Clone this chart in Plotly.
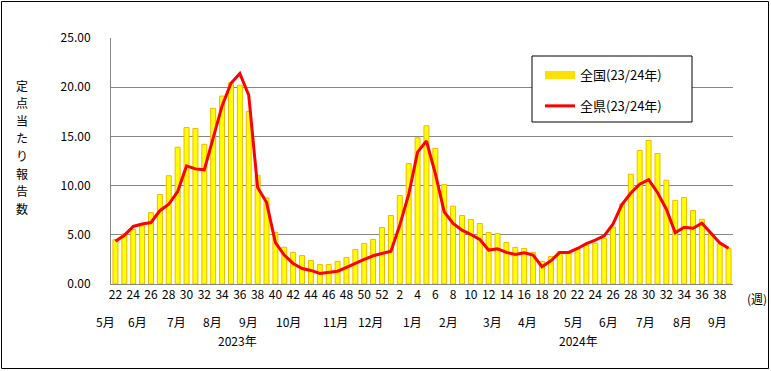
import plotly.graph_objects as go

weeks_2023 = list(range(22, 53))
weeks_2024 = list(range(1, 40))

national = [
    4.5, 5.1, 5.55, 5.9, 7.25, 9.1, 11.0, 13.9, 15.9, 15.8, 14.2, 17.85, 19.1, 20.45, 20.2, 17.55,
    11.05, 8.75, 5.24, 3.74, 3.21, 2.89, 2.4, 1.97, 1.97, 2.3, 2.7, 3.5, 4.12, 4.53, 5.74,
    6.96, 9.0, 12.24, 14.86, 16.08, 13.78, 10.1, 7.91, 6.96, 6.55, 6.15, 5.24, 5.14, 4.22, 3.72,
    3.61, 3.21, 2.3, 2.8, 3.28, 3.18, 3.55, 3.98, 4.15, 4.65, 5.78, 8.14, 11.15, 13.57, 14.58,
    13.26, 10.55, 8.5, 8.8, 7.48, 6.58, 5.16, 4.06, 3.63,
]

prefecture = [
    4.35, 4.95, 5.85, 6.1, 6.25, 7.45, 8.1, 9.4, 12.0, 11.7, 11.6, 14.8, 18.1, 20.4, 21.4, 19.2,
    9.8, 8.3, 4.2, 2.94, 2.09, 1.57, 1.38, 1.08, 1.16, 1.3, 1.69, 2.12, 2.5, 2.87, 3.11,
    3.34, 5.98, 9.1, 13.4, 14.53, 11.22, 7.33, 6.15, 5.47, 5.03, 4.53, 3.45, 3.58, 3.21, 3.01,
    3.18, 2.94, 1.76, 2.36, 3.21, 3.21, 3.61, 4.1, 4.45, 4.9, 6.1, 8.07, 9.25, 10.15, 10.6,
    9.3, 7.6, 5.2, 5.77, 5.67, 6.18, 5.17, 4.18, 3.63,
]

week_numbers = weeks_2023 + weeks_2024
x_idx = list(range(len(week_numbers)))
tick_vals = [i for i, w in zip(x_idx, week_numbers) if w % 2 == 0]
tick_text = [str(w) for w in week_numbers if w % 2 == 0]

month_labels = ["5月", "6月", "7月", "8月", "9月", "10月", "11月", "12月", "1月", "2月",
                "3月", "4月", "5月", "6月", "7月", "8月", "9月"]
month_pos = [-1.1, 2.45, 6.85, 10.9, 14.95, 19.45, 24.75, 28.7, 33.4, 37.5,
             42.4, 46.35, 51.5, 55.5, 59.6, 63.8, 67.8]
year_labels = ["2023年", "2024年"]
year_pos = [13.7, 52.1]

y_ticks = [0, 5, 10, 15, 20, 25]
y_title = "定点当たり報告数"

FONT = "Noto Sans CJK JP"

fig = go.Figure()
fig.add_trace(go.Bar(
    x=x_idx, y=national, name="全国(23/24年)", showlegend=False,
    marker=dict(color="#FFFF00", line=dict(color="#F2B800", width=1)),
))
fig.add_trace(go.Scatter(
    x=[None], y=[None], mode="lines", name="全国(23/24年)",
    line=dict(color="#FFE000", width=8), legendgroup="a",
))
fig.add_trace(go.Scatter(
    x=x_idx, y=prefecture, mode="lines", name="全県(23/24年)",
    line=dict(color="#FF0000", width=3), legendgroup="b",
))

L, R, T, B = 111, 733, 38, 284
PW, PH = R - L, B - T
NCAT = len(x_idx)


def px(x):
    return (x - L) / PW


def py(y):
    return (B - y) / PH


def cat_to_paper(c):
    return (c + 0.5) / NCAT


annotations = []
for lab, pos in zip(month_labels, month_pos):
    annotations.append(dict(x=cat_to_paper(pos), xref="paper", xanchor="center",
                            y=0, yref="paper", yanchor="middle", yshift=-37,
                            text=lab, showarrow=False,
                            font=dict(size=12, family=FONT, color="black")))
for lab, pos in zip(year_labels, year_pos):
    annotations.append(dict(x=cat_to_paper(pos), xref="paper", xanchor="center",
                            y=0, yref="paper", yanchor="middle", yshift=-56,
                            text=lab, showarrow=False,
                            font=dict(size=12, family=FONT, color="black")))
annotations.append(dict(x=px(757), xref="paper", xanchor="center", y=0, yref="paper",
                        yanchor="middle", yshift=-14, text="(週)", showarrow=False,
                        font=dict(size=12, family=FONT, color="black")))
for i, ch in enumerate(y_title):
    annotations.append(dict(x=px(22), xref="paper", xanchor="center",
                            y=py(85 + i * 17.6), yref="paper", yanchor="middle",
                            text=ch, showarrow=False, borderpad=0,
                            font=dict(size=12, family=FONT, color="black")))

shapes = [
    dict(type="rect", xref="paper", yref="paper",
         x0=px(1.5), x1=px(768.5), y0=py(368.5), y1=py(1.5),
         line=dict(color="black", width=1)),
    dict(type="rect", xref="paper", yref="paper",
         x0=px(532), x1=px(692), y0=py(122), y1=py(56),
         line=dict(color="black", width=1), fillcolor="white", layer="above"),
]

fig.update_layout(
    width=771, height=371,
    margin=dict(l=L, r=771 - R, t=T, b=371 - B),
    plot_bgcolor="white", paper_bgcolor="white",
    bargap=0.44,
    font=dict(family=FONT, size=12, color="black"),
    showlegend=True,
    legend=dict(x=px(540), y=py(60), xanchor="left", yanchor="top",
                bgcolor="rgba(0,0,0,0)", borderwidth=0,
                font=dict(size=13, family=FONT, color="black"),
                tracegroupgap=11, traceorder="grouped"),
    annotations=annotations,
    shapes=shapes,
    xaxis=dict(range=[-0.5, NCAT - 0.5], tickmode="array",
               tickvals=tick_vals, ticktext=tick_text, showgrid=False,
               showline=True, linecolor="#868686", linewidth=1, ticks="",
               tickangle=0, tickfont=dict(size=12, family=FONT)),
    yaxis=dict(range=[0, 25], tickvals=y_ticks, tickformat=".2f",
               showgrid=True, gridcolor="#868686", gridwidth=1,
               showline=True, linecolor="#868686", linewidth=1,
               zeroline=False, ticks="", ticklabelstandoff=17,
               tickfont=dict(size=12, family=FONT)),
)

fig.write_html("out.html", config={"displayModeBar": False},
               post_script="document.body.style.margin='0';")
